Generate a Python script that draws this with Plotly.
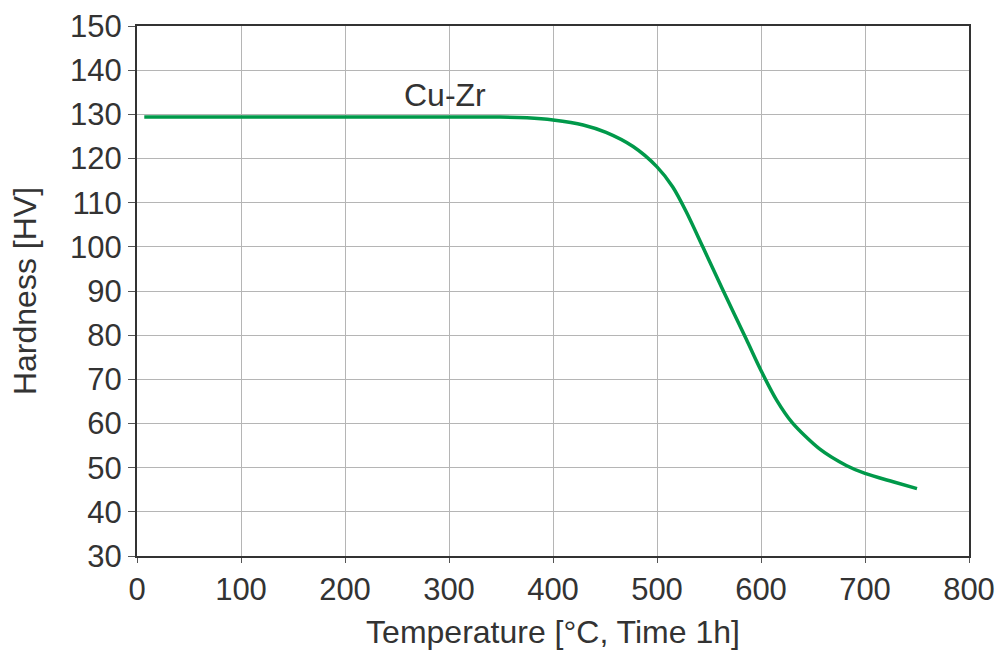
import plotly.graph_objects as go

temperature = [7, 100, 200, 300, 349, 375, 400, 429, 451, 477, 500, 515, 528, 544, 563,
               586, 600, 615, 630, 656, 682, 700, 727, 750]
hardness = [129.4, 129.4, 129.4, 129.4, 129.4, 129.2, 128.7, 127.6, 125.9, 122.7, 118.1, 113.6,
            108.0, 100.0, 90.4, 79.0, 72.0, 65.3, 60.2, 54.3, 50.5, 48.7, 46.8, 45.25]
series_label = "Cu-Zr"
x_title = "Temperature [°C, Time 1h]"
y_title = "Hardness [HV]"

FONT = "Liberation Sans, Arial, sans-serif"
TXT = "#333333"

fig = go.Figure()
fig.add_trace(go.Scatter(x=temperature, y=hardness, mode="lines",
                         line=dict(color="#00994A", width=3.5, shape="spline", smoothing=0.8),
                         showlegend=False, hoverinfo="skip"))
fig.add_annotation(x=296, y=134.4, text=series_label, showarrow=False,
                   font=dict(family=FONT, size=32, color=TXT))

axis_common = dict(showgrid=True, gridcolor="#b5b5b5", gridwidth=1,
                   showline=True, linecolor="#333333", linewidth=2, mirror=True,
                   ticks="outside", tickcolor="#555555", tickwidth=1,
                   tickfont=dict(family=FONT, size=31, color=TXT),
                   zeroline=False, automargin=False)

fig.update_xaxes(range=[0, 800], dtick=100, tick0=0, ticklen=5,
                 title=dict(text=x_title, font=dict(family=FONT, size=32, color=TXT), standoff=20),
                 **axis_common)
fig.update_yaxes(range=[30, 150], dtick=10, tick0=30, ticklen=7,
                 title=dict(text=y_title, font=dict(family=FONT, size=32, color=TXT), standoff=24),
                 **axis_common)

fig.update_layout(width=996, height=650, plot_bgcolor="white", paper_bgcolor="white",
                  margin=dict(l=137, r=27, t=26, b=94), font=dict(family=FONT, color=TXT))

fig.write_html("out.html")
